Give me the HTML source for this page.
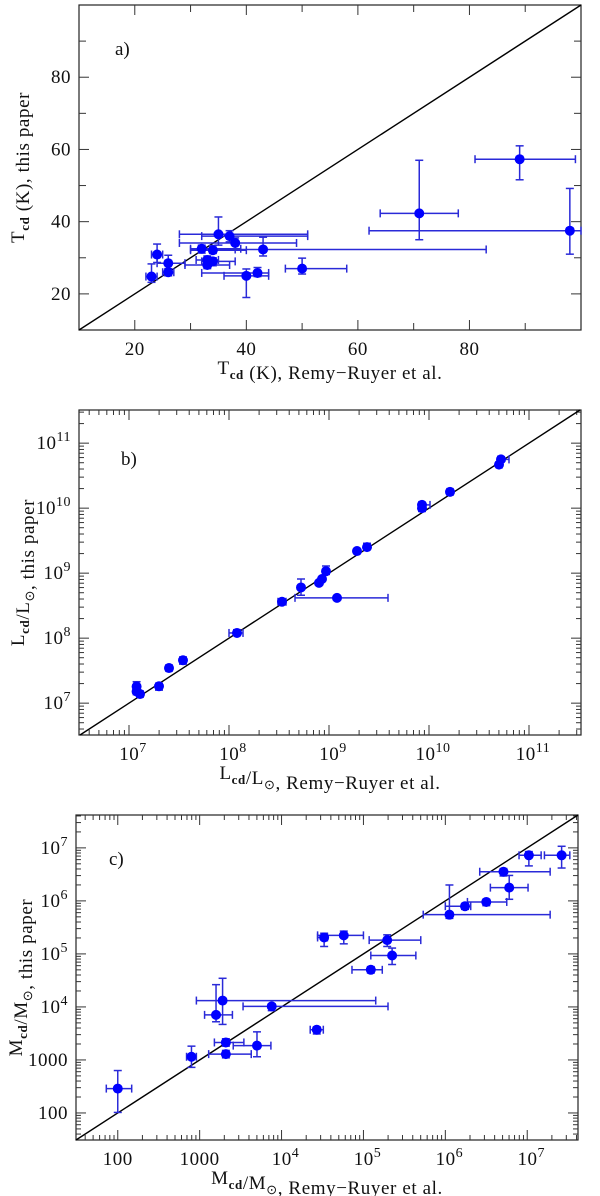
<!DOCTYPE html>
<html><head><meta charset="utf-8">
<style>
html,body{margin:0;padding:0;background:#fff;}
svg{display:block;font-family:"Liberation Serif",serif;}
</style></head>
<body>
<svg id="fig" width="600" height="1196" viewBox="0 0 600 1196"></svg>
<script>
// ---- Panel a data (linear, K) ----
const aX = [23,24,26,26,32,34,35,37,38,33,33,34,40,42,43,50,71,89,98];
const aY = [24.8,30.9,28.5,26,32.5,32.1,36.5,36,34.1,29.4,28,29,25,25.8,32.3,27,42.3,57.3,37.5];
const aXlo = [22,23,24,25,30,30,28,32,28,31,29,32,36,32,38,47,64,81,62];
const aXhi = [24,25,29,27,39,40,51,51,49,35,37,38,44,44,83,58,78,99,100];
const aYlo = [23.2,28.7,26.4,25,31.3,31.2,33.5,34.4,32.5,28.3,27,27.8,19,24.8,30.5,25.5,35,51.6,31];
const aYhi = [28.3,33.8,30.7,27,33.5,33.4,41.3,37.5,35.5,30.5,29.5,30,26.9,27.3,35.7,29.9,57,61,49.2];
const aTicks = [20,40,60,80];
// ---- Panel b data (log10 L) ----
const bX = [7.076,7.076,7.11,7.30,7.40,7.54,8.08,8.53,8.72,8.90,8.93,8.97,9.08,9.28,9.38,9.93,9.93,10.21,10.70,10.72];
const bY = [7.256,7.18,7.14,7.26,7.54,7.66,8.08,8.56,8.78,8.85,8.91,9.03,8.62,9.34,9.40,10.05,10.0,10.25,10.67,10.75];
const bXlo = [7.05,7.05,7.08,7.27,7.37,7.51,8.00,8.49,8.70,8.88,8.91,8.95,8.66,9.27,9.36,9.90,9.90,10.18,10.68,10.69];
const bXhi = [7.10,7.10,7.14,7.33,7.43,7.57,8.14,8.57,8.74,8.92,8.95,8.99,9.59,9.30,9.40,10.01,9.96,10.24,10.73,10.80];
const bYlo = [7.20,7.13,7.10,7.20,7.51,7.60,8.04,8.53,8.66,8.83,8.89,8.98,8.60,9.32,9.37,10.01,9.95,10.22,10.64,10.72];
const bYhi = [7.33,7.23,7.18,7.30,7.57,7.71,8.13,8.59,8.91,8.87,8.94,9.11,8.64,9.36,9.46,10.09,10.04,10.28,10.70,10.79];
const bTicks = [7,8,9,10,11];
// ---- Panel c data (log10 M) ----
const cX = [2.0,2.90,3.20,3.28,3.32,3.32,3.70,3.88,4.43,4.52,4.76,5.29,5.35,5.09,6.05,6.24,6.50,6.71,6.78,7.02,7.42];
const cY = [2.46,3.06,3.85,4.12,3.33,3.11,3.27,4.01,3.57,5.31,5.35,5.26,4.97,4.70,5.74,5.90,5.98,6.55,6.25,6.86,6.86];
const cXlo = [1.86,2.84,3.06,2.96,3.18,3.11,3.41,3.53,4.35,4.44,4.44,5.07,5.09,4.86,5.73,6.00,6.27,6.42,6.55,6.90,7.21];
const cXhi = [2.17,2.96,3.40,5.15,3.54,3.63,3.87,5.30,4.51,4.56,5.00,5.70,5.64,5.23,7.28,6.31,6.75,7.28,7.01,7.17,7.52];
const cYlo = [2.01,2.86,3.72,3.67,3.26,3.04,3.06,3.93,3.49,5.14,5.19,5.14,4.80,4.64,5.67,5.84,5.91,6.47,6.03,6.66,6.62];
const cYhi = [2.80,3.26,4.42,4.54,3.40,3.18,3.53,4.06,3.62,5.39,5.43,5.36,5.11,4.76,6.30,5.94,6.03,6.61,6.48,6.93,7.03];
const cTicks = [2,3,4,5,6,7];
const cTickLabels = ["100","1000","10|4","10|5","10|6","10|7"];

const NS = "http://www.w3.org/2000/svg";
const svg = document.getElementById("fig");
function mk(tag, attrs, parent){
  const e = document.createElementNS(NS, tag);
  for (const k in attrs) e.setAttribute(k, attrs[k]);
  (parent||svg).appendChild(e);
  return e;
}
function line(g,x1,y1,x2,y2,stroke,w){ return mk("line",{x1,y1,x2,y2,stroke,"stroke-width":w},g); }

function panel(cfg){
  const g = mk("g",{});
  
  
  const {L,R,T,B,x0,x1,y0,y1} = cfg;
  const sx = v => L + (v - x0)/(x1 - x0)*(R - L);
  const sy = v => B - (v - y0)/(y1 - y0)*(B - T);
  const fr = mk("rect",{x:L,y:T,width:R-L,height:B-T,fill:"none",stroke:"#222","stroke-width":1.2},g);
  
  
  const tg = mk("g",{},g);
  
  
  const maj = 10, mnr = 5;
  function xt(v,len){ line(tg,sx(v),B,sx(v),B-len,"#333",1); line(tg,sx(v),T,sx(v),T+len,"#333",1); }
  function yt(v,len){ line(tg,L,sy(v),L+len,sy(v),"#333",1); line(tg,R,sy(v),R-len,sy(v),"#333",1); }
  if (cfg.log){
    for (let d=Math.floor(x0); d<=Math.ceil(x1); d++){
      if (d>=x0 && d<=x1) xt(d,maj);
      for (let m=2;m<10;m++){ const v=d+Math.log10(m); if(v>=x0&&v<=x1) xt(v,mnr); }
    }
    for (let d=Math.floor(y0); d<=Math.ceil(y1); d++){
      if (d>=y0 && d<=y1) yt(d,maj);
      for (let m=2;m<10;m++){ const v=d+Math.log10(m); if(v>=y0&&v<=y1) yt(v,mnr); }
    }
  } else {
    for (let v=20; v<x1; v+=20) xt(v,maj);
    for (let v=10; v<x1; v+=20) if(v>x0) xt(v,mnr+2);
    for (let v=20; v<y1; v+=20) yt(v,maj);
    for (let v=10; v<y1; v+=20) if(v>y0) yt(v,mnr+2);
  }
  function lab(str, x, y, anchor, nm){
    const t = mk("text",{x,y,"font-size":19,"text-anchor":anchor,fill:"#111","letter-spacing":"0.5"},g);
    
    
    if (str.indexOf("|")>=0){
      const [b,e] = str.split("|");
      const s1 = mk("tspan",{},t); s1.textContent=b;
      const s2 = mk("tspan",{dy:-8,"font-size":14},t); s2.textContent=e;
    } else t.textContent = str;
    return t;
  }
  cfg.ticks.forEach((v,i)=>{
    const s = cfg.labels[i];
    lab(s, sx(v)+(s.indexOf("|")>=0?4:0), B+25, "middle", "x-tick-label");
    lab(s, L-8, sy(v)+6, "end", "y-tick-label");
  });
  const dg = line(g, sx(Math.max(x0,y0)), sy(Math.max(x0,y0)), sx(Math.min(x1,y1)), sy(Math.min(x1,y1)), "#000", 1.4);
  
  
  const eg = mk("g",{},g);
  
  
  const cap = 4, col = "#2a2ad8";
  for (let i=0;i<cfg.X.length;i++){
    const px=sx(cfg.X[i]), py=sy(cfg.Y[i]);
    const xl=sx(cfg.Xlo[i]), xh=sx(cfg.Xhi[i]), yl=sy(cfg.Ylo[i]), yh=sy(cfg.Yhi[i]);
    line(eg,xl,py,xh,py,col,1.5); line(eg,xl,py-cap,xl,py+cap,col,1.5); line(eg,xh,py-cap,xh,py+cap,col,1.5);
    line(eg,px,yl,px,yh,col,1.5); line(eg,px-cap,yl,px+cap,yl,col,1.5); line(eg,px-cap,yh,px+cap,yh,col,1.5);
  }
  for (let i=0;i<cfg.X.length;i++){
    const c = mk("circle",{cx:sx(cfg.X[i]),cy:sy(cfg.Y[i]),r:5,fill:"#0000ff"},g);
    
    
  }
  const pl = mk("text",{x:L+cfg.letterDx,y:T+cfg.letterDy,"font-size":19,fill:"#111"},g);
  pl.textContent = cfg.letter;
  
  
  const xtl = mk("text",{x:(L+R)/2,y:B+44,"font-size":19,"text-anchor":"middle",fill:"#111","letter-spacing":"0.6"},g);
  
  
  xtl.innerHTML = cfg.xtitle;
  const ytl = mk("text",{x:0,y:0,"font-size":19,"text-anchor":"middle",fill:"#111","letter-spacing":"0.6",transform:`translate(${cfg.ytx},${(T+B)/2}) rotate(-90)`},g);
  
  
  ytl.innerHTML = cfg.ytitle;
}

const sub = s => `<tspan dy="5" font-size="13" font-weight="bold">${s}</tspan><tspan dy="-5"></tspan>`;
const sun = `<tspan dy="5" font-size="13">⊙</tspan><tspan dy="-5"></tspan>`;

panel({name:"panel-a-temperature",L:79,R:581,T:5,B:330,x0:10,x1:100,y0:10,y1:100,log:false,
  X:aX,Y:aY,Xlo:aXlo,Xhi:aXhi,Ylo:aYlo,Yhi:aYhi,ticks:aTicks,labels:aTicks.map(String),
  letter:"a)",letterDx:36,letterDy:50,ytx:24,
  xtitle:`T${sub("cd")} (K), Remy−Ruyer et al.`, ytitle:`T${sub("cd")} (K), this paper`});
panel({name:"panel-b-luminosity",L:79,R:581,T:410,B:735,x0:6.5,x1:11.52,y0:6.51,y1:11.51,log:true,
  X:bX,Y:bY,Xlo:bXlo,Xhi:bXhi,Ylo:bYlo,Yhi:bYhi,ticks:bTicks,labels:bTicks.map(v=>"10|"+v),
  letter:"b)",letterDx:42,letterDy:55,ytx:24,
  xtitle:`L${sub("cd")}/L${sun}, Remy−Ruyer et al.`, ytitle:`L${sub("cd")}/L${sun}, this paper`});
panel({name:"panel-c-mass",L:76,R:578,T:815,B:1140,x0:1.49,x1:7.62,y0:1.49,y1:7.62,log:true,
  X:cX,Y:cY,Xlo:cXlo,Xhi:cXhi,Ylo:cYlo,Yhi:cYhi,ticks:cTicks,labels:cTickLabels,
  letter:"c)",letterDx:33,letterDy:50,ytx:22,
  xtitle:`M${sub("cd")}/M${sun}, Remy−Ruyer et al.`, ytitle:`M${sub("cd")}/M${sun}, this paper`});
</script>
</body></html>
